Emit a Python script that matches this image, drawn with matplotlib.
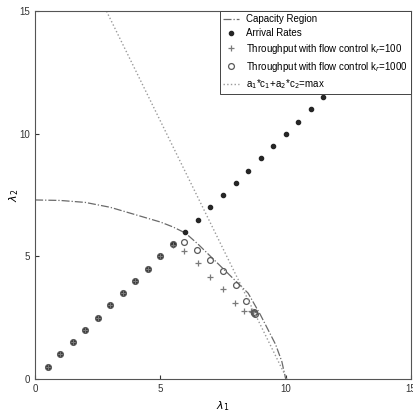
import matplotlib
matplotlib.use("Agg")
import matplotlib.pyplot as plt

plt.rcParams['font.family'] = ['Liberation Sans', 'DejaVu Sans']

# capacity region boundary
cap_x = [0.0, 1.0, 2.0, 3.0, 4.0, 5.0, 5.5, 6.0, 6.5, 7.0, 7.5, 8.0, 8.5, 9.0, 9.3, 9.6, 9.85, 10.0]
cap_y = [7.3, 7.28, 7.2, 7.0, 6.7, 6.4, 6.2, 5.95, 5.5, 5.0, 4.5, 4.0, 3.5, 2.6, 2.0, 1.4, 0.7, 0.0]

# arrival rates (lambda_1 = lambda_2)
arr_x = [0.5, 1.0, 1.5, 2.0, 2.5, 3.0, 3.5, 4.0, 4.5, 5.0, 5.5, 6.0, 6.5, 7.0, 7.5, 8.0,
         8.5, 9.0, 9.5, 10.0, 10.5, 11.0, 11.5, 12.0]
arr_y = [0.5, 1.0, 1.5, 2.0, 2.5, 3.0, 3.5, 4.0, 4.5, 5.0, 5.5, 6.0, 6.5, 7.0, 7.5, 8.0,
         8.5, 9.0, 9.5, 10.0, 10.5, 11.0, 11.5, 12.0]

# throughput, flow control k=100
thr100_x = [0.5, 1.0, 1.5, 2.0, 2.5, 3.0, 3.5, 4.0, 4.5, 5.0, 5.5, 5.95, 6.5, 7.0, 7.48,
            7.97, 8.34, 8.62, 8.65, 8.68]
thr100_y = [0.5, 1.0, 1.5, 2.0, 2.5, 3.0, 3.5, 4.0, 4.5, 5.0, 5.45, 5.2, 4.72, 4.15, 3.66,
            3.09, 2.78, 2.76, 2.74, 2.72]

# throughput, flow control k=1000
thr1000_x = [0.5, 1.0, 1.5, 2.0, 2.5, 3.0, 3.5, 4.0, 4.5, 5.0, 5.5, 5.95, 6.46, 6.98, 7.48,
             8.0, 8.43, 8.72, 8.75, 8.78]
thr1000_y = [0.5, 1.0, 1.5, 2.0, 2.5, 3.0, 3.5, 4.0, 4.5, 5.0, 5.5, 5.58, 5.25, 4.86, 4.41,
             3.84, 3.16, 2.72, 2.68, 2.64]

# a1*c1 + a2*c2 = max
lin_x = [2.85, 10.05]
lin_y = [15.0, 0.0]

fig = plt.figure(figsize=(4.13, 4.15), dpi=100)
ax = fig.add_axes([0.085, 0.087, 0.91, 0.886])

ax.plot(cap_x, cap_y, linestyle='-.', color='#6a6a6a', linewidth=0.9, label='Capacity Region')
ax.plot(arr_x, arr_y, linestyle='none', marker='o', markersize=3.0, color='#262626',
        label='Arrival Rates')
ax.plot(thr100_x, thr100_y, linestyle='none', marker='+', markersize=4.5, color='#7a7a7a',
        markeredgewidth=0.9, label='Throughput with flow control k$_r$=100')
ax.plot(thr1000_x, thr1000_y, linestyle='none', marker='o', markersize=4.2, color='#5a5a5a',
        markerfacecolor='none', markeredgewidth=0.9, label='Throughput with flow control k$_r$=1000')
ax.plot(lin_x, lin_y, linestyle=':', color='#9a9a9a', linewidth=1.0,
        label='a$_1$*c$_1$+a$_2$*c$_2$=max')

ax.set_xlim(0, 15)
ax.set_ylim(0, 15)
ax.set_xticks([0, 5, 10, 15])
ax.set_yticks([0, 5, 10, 15])
ax.tick_params(direction='in', labelsize=7, length=3, colors='#333333')
for s in ax.spines.values():
    s.set_color('#555555')
    s.set_linewidth(0.8)

ax.set_xlabel('$\\lambda_1$', fontsize=8, labelpad=4)
ax.set_ylabel('$\\lambda_2$', fontsize=8, labelpad=-1)

leg = ax.legend(loc='upper right', fontsize=7, frameon=True, fancybox=False,
                borderaxespad=0.0, handlelength=1.6, handletextpad=0.8,
                labelspacing=0.4, borderpad=0.3, framealpha=1.0)
leg.get_frame().set_edgecolor('#444444')
leg.get_frame().set_linewidth(0.7)

fig.savefig('out.png', dpi=100)
